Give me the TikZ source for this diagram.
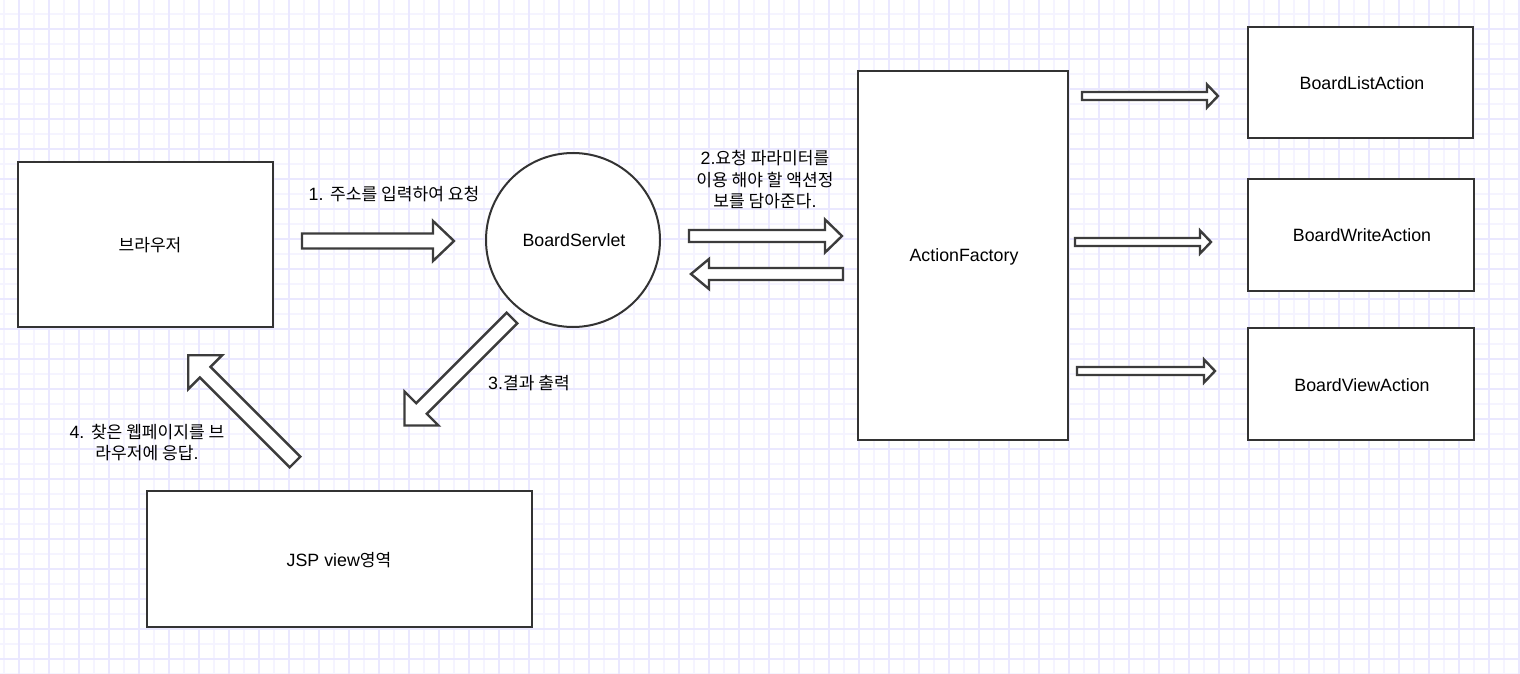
\documentclass[tikz,border=0pt]{standalone}
\usepackage{fontspec}
\setmainfont{Liberation Sans}
\newfontfamily\kr[Scale=0.96]{Noto Sans CJK KR}
\definecolor{gmaj}{HTML}{EAE8FF}
\definecolor{gmin}{HTML}{F5F4FF}
\definecolor{edgec}{HTML}{333333}
\definecolor{arrc}{HTML}{3C3C3C}
\tikzset{
  box/.style={draw=edgec, line width=2.6pt, fill=white, inner sep=0pt},
  roundbox/.style={draw=edgec, line width=2pt, fill=white, circle, inner sep=0pt},
  lbl/.style={font=\fontsize{17.8}{21.5}\selectfont, align=center, inner sep=0pt},
  barrowstyle/.style={draw=arrc, line width=2.4pt, fill=white, line join=miter},
}
% tail x, tail y, angle, length, shaft half width, head half width, head length
\newcommand{\blockarr}[7]{%
  \begin{scope}[shift={(#1,#2)},rotate=#3]
    \draw[barrowstyle] (0,-#5) -- (#4-#7,-#5) -- (#4-#7,-#6) -- (#4,0)
      -- (#4-#7,#6) -- (#4-#7,#5) -- (0,#5) -- cycle;
  \end{scope}}
\begin{document}
\begin{tikzpicture}[x=1pt,y=-1pt]
\useasboundingbox (0,0) rectangle (1520,674);
\fill[white] (0,0) rectangle (1520,674);
% grid
\foreach \x in {4,34,...,1520} \draw[gmin, line width=1.5pt] (\x,0) -- (\x,674);
\foreach \y in {14,44,...,674} \draw[gmin, line width=1.5pt] (0,\y) -- (1520,\y);
\foreach \x in {19,49,...,1520} \draw[gmaj, line width=1.5pt] (\x,0) -- (\x,674);
\foreach \y in {29,59,...,674} \draw[gmaj, line width=1.5pt] (0,\y) -- (1520,\y);

% nodes
\node[box, minimum width=255pt, minimum height=165pt] (browser) at (145.5,244.5) {};
\node[lbl] at (150,245) {\kr 브라우저};
\node[roundbox, minimum size=174pt] (servlet) at (573,240) {};
\node[lbl] at (574,240) {BoardServlet};
\node[box, minimum width=210pt, minimum height=369pt] (factory) at (963,255.5) {};
\node[lbl] at (964,257) {ActionFactory};
\node[box, minimum width=225pt, minimum height=111pt] (list) at (1360.5,82.5) {};
\node[lbl] at (1362,83) {BoardListAction};
\node[box, minimum width=226pt, minimum height=112pt] (write) at (1361,235) {};
\node[lbl] at (1362,235) {BoardWriteAction};
\node[box, minimum width=226pt, minimum height=112pt] (view) at (1361,384) {};
\node[lbl] at (1362,385) {BoardViewAction};
\node[box, minimum width=385pt, minimum height=136pt] (jsp) at (339.5,559) {};
\node[lbl] at (339,560) {JSP view{\kr 영역}};

% block arrows
\blockarr{302}{241}{0}{152}{7.5}{20}{21}
\blockarr{689}{236}{0}{153}{6}{16.5}{17}
\blockarr{843}{274}{180}{152}{6}{15}{18}
\blockarr{1082}{96}{0}{136}{4}{11.5}{11}
\blockarr{1075}{242}{0}{136}{4}{11.5}{11}
\blockarr{1077}{371}{0}{138}{4}{11.5}{11}
\blockarr{512}{318}{225}{152}{7.5}{24}{24}
\blockarr{295}{462}{135}{151}{7.5}{24}{24}

% labels
\node[lbl] (t1) at (394,194) {1. {\kr 주소를 입력하여 요청}};
\node[lbl] (t2) at (765,180) {2.{\kr 요청 파라미터를}\\{\kr 이용 해야 할 액션정}\\{\kr 보를 담아준다}.};
\node[lbl] (t3) at (529,383) {3.{\kr 결과 출력}};
\node[lbl] (t4) at (147,442.5) {4. {\kr 찾은 웹페이지를 브}\\{\kr 라우저에 응답}.};
\end{tikzpicture}
\end{document}
